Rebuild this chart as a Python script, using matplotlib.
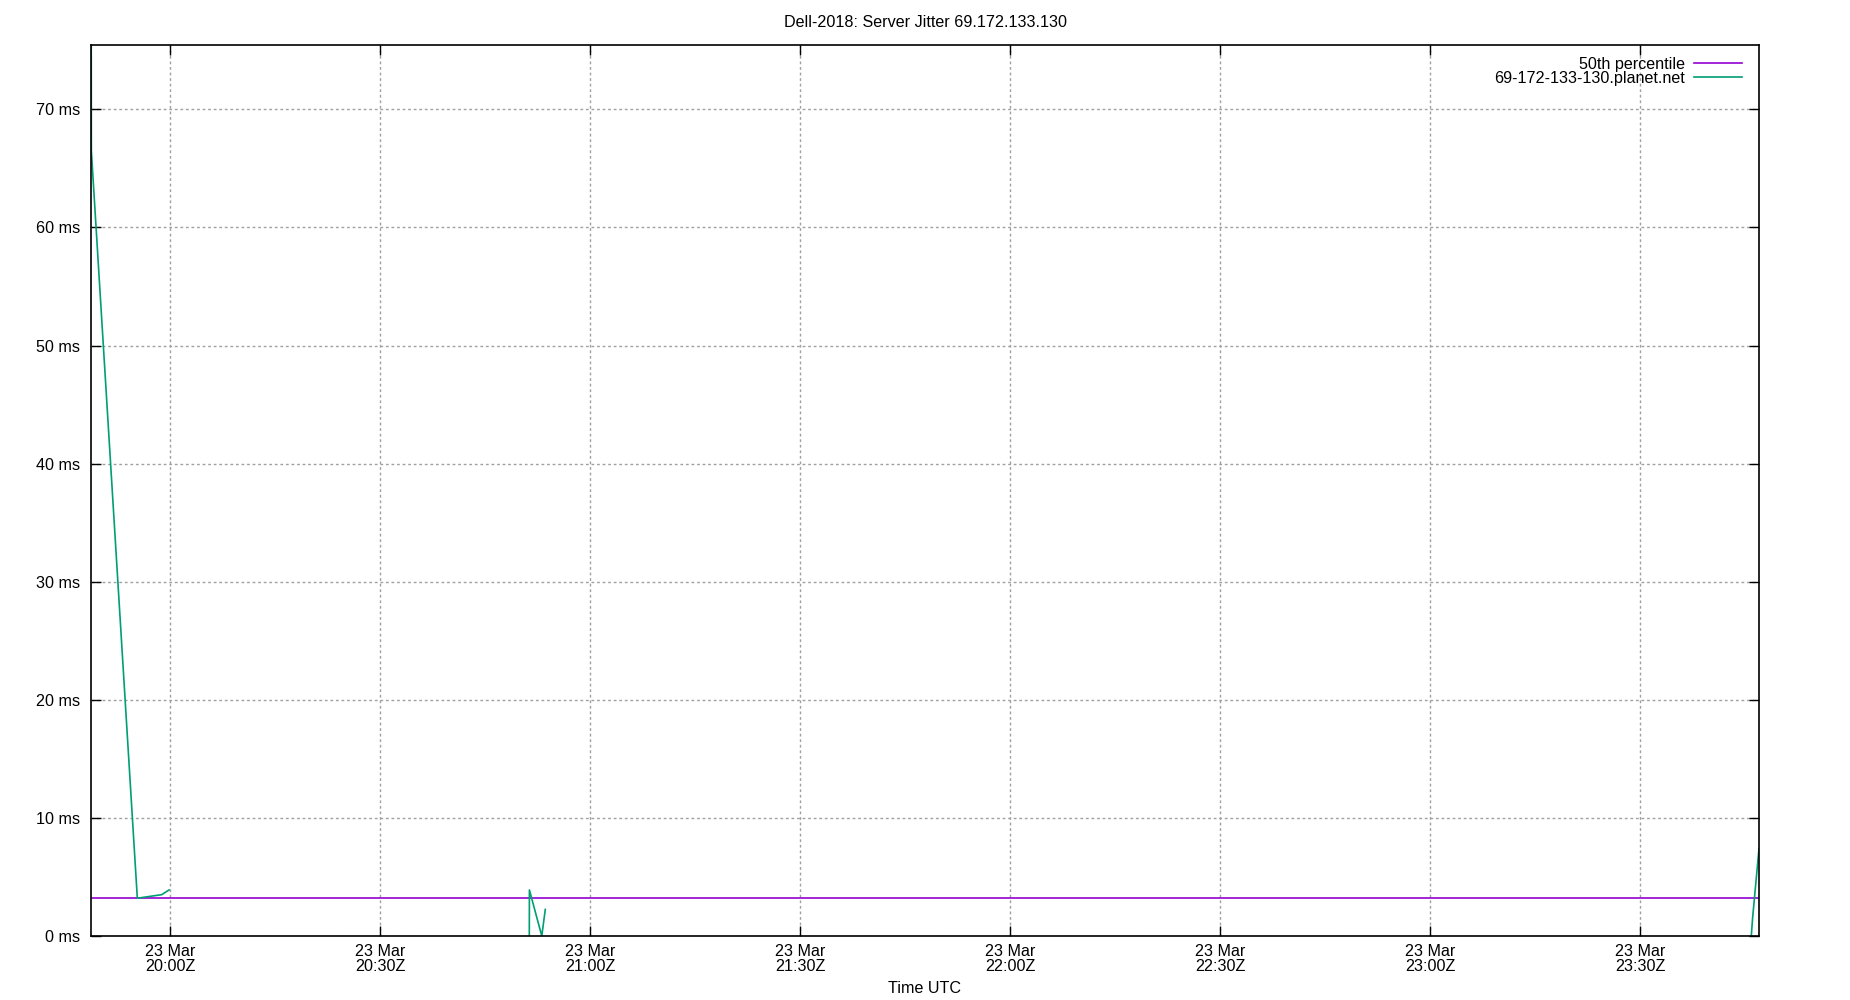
#!/usr/bin/python3
import pandas as pd
import numpy as np
import matplotlib
matplotlib.use("Agg")
import matplotlib.pyplot as plt
import matplotlib.dates as mdates

# jitter samples (NaN = gap in the data)
jitter_times = ['2023-03-23 19:48:43', '2023-03-23 19:48:46', '2023-03-23 19:55:20',
                '2023-03-23 19:58:49', '2023-03-23 19:59:52', '2023-03-23 20:20:00',
                '2023-03-23 20:51:19', '2023-03-23 20:51:20', '2023-03-23 20:53:06',
                '2023-03-23 20:53:36', '2023-03-23 22:00:00',
                '2023-03-23 23:45:51', '2023-03-23 23:46:02', '2023-03-23 23:46:57']
jitter_ms = [95.0, 66.5, 3.2,
             3.5, 3.9, np.nan,
             0.0, 3.9, 0.0,
             2.25, np.nan,
             0.0, 1.5, 7.4]

p50_times = ['2023-03-23 19:48:43', '2023-03-23 23:46:57']
p50_ms = [3.2, 3.2]

x_start = '2023-03-23 19:48:43'
x_end = '2023-03-23 23:46:57'
tick_times = ['2023-03-23 20:00', '2023-03-23 20:30', '2023-03-23 21:00', '2023-03-23 21:30',
              '2023-03-23 22:00', '2023-03-23 22:30', '2023-03-23 23:00', '2023-03-23 23:30']
y_ticks = [0, 10, 20, 30, 40, 50, 60, 70]

fs = 11.6
plt.rcParams['font.family'] = ['Liberation Sans', 'DejaVu Sans']
plt.rcParams['font.size'] = fs

fig = plt.figure(figsize=[18.5, 10], dpi=100)
ax = fig.add_axes([91 / 1850, 1 - 936 / 1000, (1759 - 91) / 1850, (936 - 45) / 1000])

ax.plot(pd.to_datetime(p50_times), p50_ms, color='#9400d3', lw=1.2, label='50th percentile')
ax.plot(pd.to_datetime(jitter_times), jitter_ms, color='#009e73', lw=1.2,
        label='69-172-133-130.planet.net')

ax.set_xlim(pd.to_datetime(x_start), pd.to_datetime(x_end))
ax.set_ylim(0, 75.45)

ax.set_xticks(pd.to_datetime(tick_times))
ax.xaxis.set_major_formatter(mdates.DateFormatter('%d %b\n%H:%MZ'))
ax.set_yticks(y_ticks)
ax.set_yticklabels([f"{v} ms" for v in y_ticks])
for lab in ax.get_xticklabels():
    lab.set_linespacing(0.95)

ax.tick_params(direction='in', length=7, width=1, top=True, right=True,
               labelsize=fs, colors='black')
ax.tick_params(axis='x', pad=6)
ax.tick_params(axis='y', pad=8)

ax.grid(True, color='#a0a0a0', linestyle=(0, (2, 2)), linewidth=1)
for s in ax.spines.values():
    s.set_linewidth(1.2)

fig.text(0.5, 1 - 22.5 / 1000, 'Dell-2018: Server Jitter 69.172.133.130',
         ha='center', va='center', fontsize=fs)
fig.text(924 / 1850, 1 - 988.5 / 1000, 'Time UTC', ha='center', va='center', fontsize=fs)

ax.legend(loc='upper right', markerfirst=False, frameon=False, fontsize=fs,
          handlelength=2.95, handletextpad=0.6, labelspacing=-0.06,
          borderpad=0, borderaxespad=0,
          bbox_to_anchor=(1742 / 1850, 1 - 57 / 1000), bbox_transform=fig.transFigure)

plt.savefig('out.png')
